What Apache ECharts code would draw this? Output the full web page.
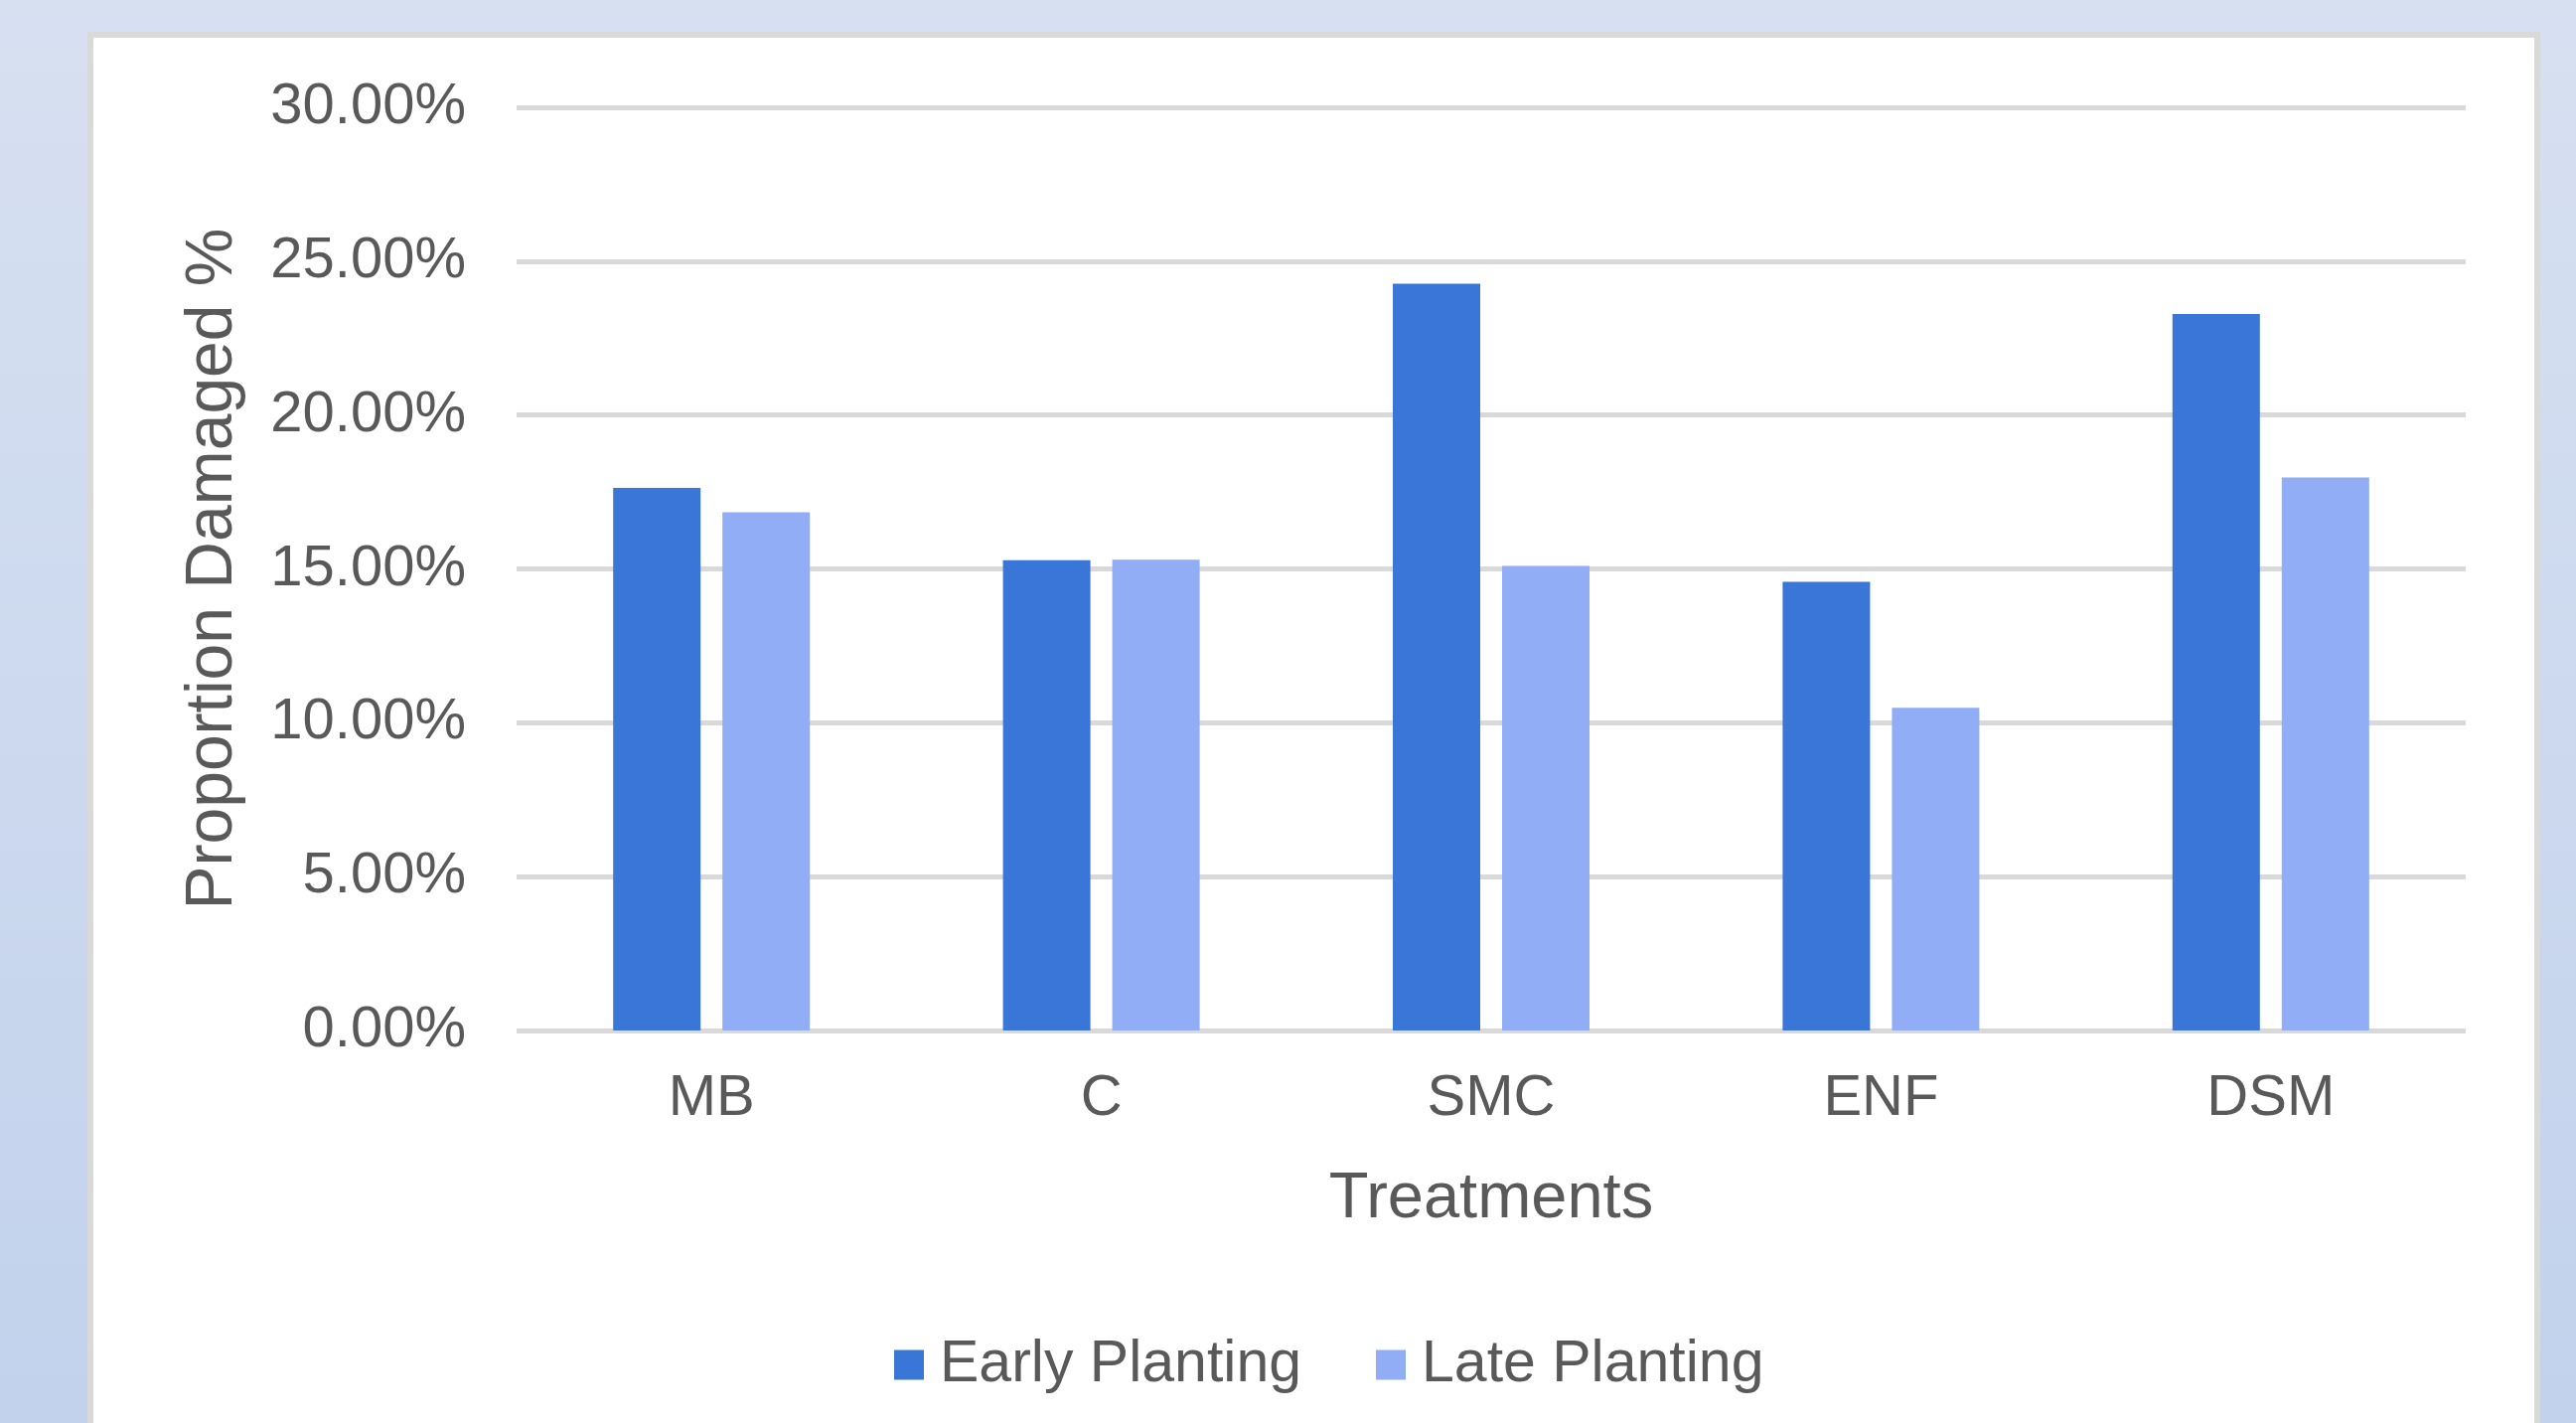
<!DOCTYPE html>
<html>
<head>
<meta charset="utf-8">
<script src="https://cdn.jsdelivr.net/npm/echarts@6/dist/echarts.min.js"></script>
<style>
  html, body { margin: 0; padding: 0; }
  #chart { width: 2593px; height: 1432px; }
</style>
</head>
<body>
<div id="chart"></div>
<script>
  // data (percent)
  var treatments = ['MB', 'C', 'SMC', 'ENF', 'DSM'];
  var earlyPlanting = [17.63, 15.28, 24.27, 14.58, 23.28];
  var latePlanting = [16.84, 15.30, 15.10, 10.49, 17.97];
  var seriesNames = ['Early Planting', 'Late Planting'];

  var textColor = '#595959';
  var fontName = 'Liberation Sans, Arial, sans-serif';

  var chart = echarts.init(document.getElementById('chart'));

  var option = {
      backgroundColor: new echarts.graphic.LinearGradient(0, 0, 0, 1, [
          { offset: 0, color: '#D7E0F1' },
          { offset: 1, color: '#C2D2EC' }
      ]),
      textStyle: { fontFamily: fontName },
      graphic: {
          elements: [{
              type: 'rect',
              z: -10,
              shape: { x: 91, y: 35, width: 2463, height: 1500 },
              style: { fill: '#ffffff', stroke: '#D9D9D9', lineWidth: 6 }
          }]
      },
      grid: {
          left: 520,
          right: 111,
          top: 108,
          bottom: 395
      },
      legend: {
          data: seriesNames,
          left: 895,
          top: 1339,
          itemWidth: 30,
          itemHeight: 30,
          itemGap: 75,
          icon: 'rect',
          textStyle: {
              color: textColor,
              fontSize: 59,
              fontFamily: fontName,
              padding: [0, 0, 0, 11]
          }
      },
      xAxis: {
          type: 'category',
          data: treatments,
          name: 'Treatments',
          nameLocation: 'middle',
          nameGap: 138,
          nameTextStyle: { color: textColor, fontSize: 65, fontFamily: fontName },
          axisLine: { show: false },
          axisTick: { show: false },
          axisLabel: { color: textColor, fontSize: 58, margin: 40, fontFamily: fontName }
      },
      yAxis: {
          type: 'value',
          min: 0,
          max: 30,
          interval: 5,
          name: 'Proportion Damaged %',
          nameLocation: 'middle',
          nameGap: 272,
          nameTextStyle: { color: textColor, fontSize: 66, fontFamily: fontName },
          axisLine: { show: false },
          axisTick: { show: false },
          axisLabel: {
              color: textColor,
              fontSize: 58,
              margin: 51,
              fontFamily: fontName,
              formatter: function (v) { return v.toFixed(2) + '%'; }
          },
          splitLine: { show: true, lineStyle: { color: '#D9D9D9', width: 5 } }
      },
      series: [{
          name: seriesNames[0],
          type: 'bar',
          data: earlyPlanting,
          barWidth: 88,
          barGap: '25%',
          itemStyle: { color: '#3A76D8' }
      }, {
          name: seriesNames[1],
          type: 'bar',
          data: latePlanting,
          barWidth: 88,
          barGap: '25%',
          itemStyle: { color: '#91ADF6' }
      }]
  };

  chart.setOption(option);
</script>
</body>
</html>
